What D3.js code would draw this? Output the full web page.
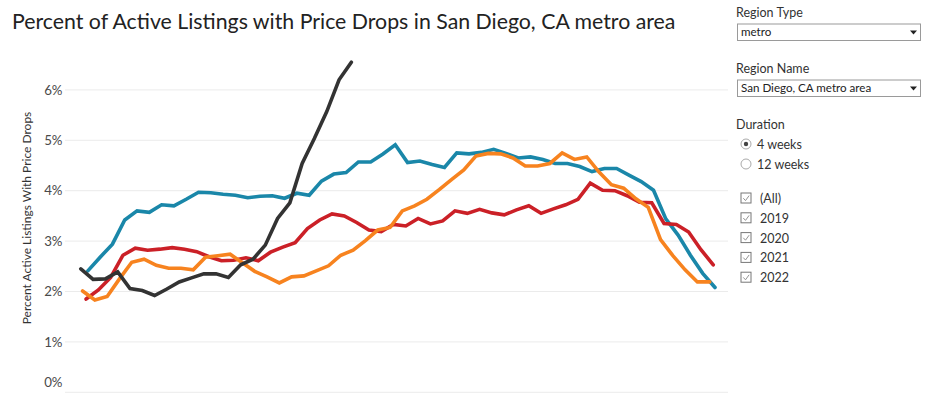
<!DOCTYPE html>
<html>
<head>
<meta charset="utf-8">
<script src="https://cdn.jsdelivr.net/npm/d3@7"></script>
<style>
  html, body { margin: 0; padding: 0; background: #fff; }
  svg { display: block; font-family: Lato, "Noto Sans", sans-serif; }
</style>
</head>
<body>
<svg id="chart" width="932" height="393"></svg>
<script>
// ---------- data ----------
const years = ["2019", "2020", "2021", "2022"];
// day of year of each series' first weekly point
const startDays = [6, 5, 3, 2];
const colors = ["#1a87a9", "#cb2027", "#f7831f", "#333333"];

const values2019 = [2.41, 2.68, 2.94, 3.42, 3.60, 3.57, 3.72, 3.70, 3.83, 3.97, 3.96, 3.93, 3.91, 3.86, 3.89, 3.90,
  3.85, 3.95, 3.91, 4.19, 4.33, 4.36, 4.57, 4.57, 4.73, 4.91, 4.56, 4.59, 4.52, 4.46, 4.75, 4.73,
  4.76, 4.82, 4.74, 4.65, 4.67, 4.62, 4.54, 4.54, 4.48, 4.38, 4.44, 4.44, 4.31, 4.18, 4.01, 3.44,
  3.12, 2.72, 2.36, 2.08];
const values2020 = [1.85, 2.03, 2.28, 2.72, 2.86, 2.82, 2.84, 2.87, 2.84, 2.79, 2.69, 2.61, 2.62, 2.67, 2.61, 2.78,
  2.88, 2.97, 3.25, 3.42, 3.54, 3.50, 3.37, 3.22, 3.19, 3.33, 3.30, 3.45, 3.34, 3.40, 3.60, 3.55,
  3.63, 3.56, 3.52, 3.62, 3.70, 3.55, 3.64, 3.72, 3.83, 4.15, 4.01, 4.00, 3.90, 3.77, 3.76, 3.35,
  3.33, 3.18, 2.83, 2.53];
const values2021 = [2.01, 1.83, 1.90, 2.25, 2.58, 2.64, 2.52, 2.46, 2.46, 2.43, 2.68, 2.71, 2.74, 2.57, 2.40, 2.29,
  2.17, 2.29, 2.31, 2.41, 2.51, 2.72, 2.82, 3.01, 3.22, 3.27, 3.60, 3.70, 3.83, 4.02, 4.22, 4.41,
  4.69, 4.74, 4.73, 4.65, 4.49, 4.49, 4.54, 4.75, 4.62, 4.67, 4.37, 4.12, 4.05, 3.84, 3.67, 3.03,
  2.71, 2.43, 2.19, 2.19];
const values2022 = [2.45, 2.24, 2.25, 2.39, 2.06, 2.02, 1.92, 2.05, 2.19, 2.27, 2.35, 2.35, 2.28, 2.53, 2.64, 2.92,
  3.45, 3.76, 4.54, 5.04, 5.57, 6.20, 6.55];
const seriesValues = [values2019, values2020, values2021, values2022];

const yTicks = [0, 1, 2, 3, 4, 5, 6];
const title = "Percent of Active Listings with Price Drops in San Diego, CA metro area";
const yTitle = "Percent Active Listings With Price Drops";

const regionType = "metro";
const regionName = "San Diego, CA metro area";
const durations = ["4 weeks", "12 weeks"];
const yearFilters = ["(All)", "2019", "2020", "2021", "2022"];

// ---------- layout ----------
const svg = d3.select("#chart");
const plot = { left: 65, right: 728 };

const x = d3.scaleLinear().domain([-7, 370.4]).range([plot.left, plot.right]);
const y = d3.scaleLinear().domain([0, 6]).range([392.3, 89.9]);

// title
svg.append("text")
  .attr("x", 12).attr("y", 29)
  .attr("font-size", 21.3)
  .attr("fill", "#222")
  .text(title);

// gridlines
svg.append("g").selectAll("line").data(yTicks).join("line")
  .attr("x1", plot.left).attr("x2", plot.right)
  .attr("y1", d => y(d)).attr("y2", d => y(d))
  .attr("stroke", "#ebebeb").attr("stroke-width", 1);

// y axis labels
const yAxis = d3.axisLeft(y).tickValues(yTicks).tickFormat(d => d + "%").tickSize(0).tickPadding(0);
const gy = svg.append("g").attr("transform", `translate(${plot.left - 2.5},0)`).call(yAxis);
gy.select(".domain").remove();
gy.selectAll("text")
  .attr("font-size", 13.3).attr("fill", "#4a4a4a")
  .attr("font-family", "Lato, 'Noto Sans', sans-serif");
gy.selectAll(".tick").filter(d => d === 0).select("text").attr("dy", "-0.4em");

// y title
svg.append("text")
  .attr("transform", "translate(31,218) rotate(-90)")
  .attr("text-anchor", "middle")
  .attr("font-size", 12)
  .attr("fill", "#333")
  .text(yTitle);

// lines
const line = d3.line()
  .x(d => x(d.day))
  .y(d => y(d.value));

const series = years.map((yr, k) => ({
  year: yr,
  color: colors[k],
  points: seriesValues[k].map((v, i) => ({ day: startDays[k] + 7 * i, value: v }))
}));

svg.append("g").selectAll("path").data(series).join("path")
  .attr("d", d => line(d.points))
  .attr("fill", "none")
  .attr("stroke", d => d.color)
  .attr("stroke-width", 3.6)
  .attr("stroke-linejoin", "miter")
  .attr("stroke-linecap", "round");

// ---------- right-hand controls ----------
const panel = svg.append("g").attr("font-size", 12.5).attr("fill", "#333");

function dropdown(label, value, labelY, boxY) {
  panel.append("text").attr("x", 736).attr("y", labelY).attr("fill", "#333").attr("font-size", 12.5).text(label);
  panel.append("rect").attr("x", 737.5).attr("y", boxY).attr("width", 183).attr("height", 16.5)
    .attr("fill", "#fff").attr("stroke", "#9a9a9a").attr("stroke-width", 1);
  panel.append("text").attr("x", 741).attr("y", boxY + 12).attr("font-size", 11.6).attr("fill", "#222").text(value);
  panel.append("path")
    .attr("d", `M${910},${boxY + 6.5} l7,0 l-3.5,4 z`)
    .attr("fill", "#222");
}
dropdown("Region Type", regionType, 16.5, 24);
dropdown("Region Name", regionName, 73, 80);

panel.append("text").attr("x", 736).attr("y", 128.5).attr("font-size", 12.5).attr("fill", "#333").text("Duration");
durations.forEach((d, i) => {
  const cy = 144 + i * 20;
  panel.append("circle").attr("cx", 746).attr("cy", cy).attr("r", 5)
    .attr("fill", "#fff").attr("stroke", "#aaa").attr("stroke-width", 1);
  if (i === 0) {
    panel.append("circle").attr("cx", 746).attr("cy", cy).attr("r", 2.2).attr("fill", "#444");
  }
  panel.append("text").attr("x", 757).attr("y", cy + 4.5).attr("font-size", 12.5).attr("fill", "#333").text(d);
});

yearFilters.forEach((d, i) => {
  const cy = 198.5 + i * 19.8;
  panel.append("rect").attr("x", 741).attr("y", cy - 5.5).attr("width", 10).attr("height", 10)
    .attr("fill", "#fff").attr("stroke", "#777").attr("stroke-width", 1);
  panel.append("path")
    .attr("d", `M${743.3},${cy - 0.3} l2.2,2.4 l3.6,-5`)
    .attr("fill", "none").attr("stroke", "#888").attr("stroke-width", 0.9);
  panel.append("text").attr("x", 760).attr("y", cy + 4.5).attr("font-size", 12.5).attr("fill", "#333").text(d);
});
</script>
</body>
</html>
